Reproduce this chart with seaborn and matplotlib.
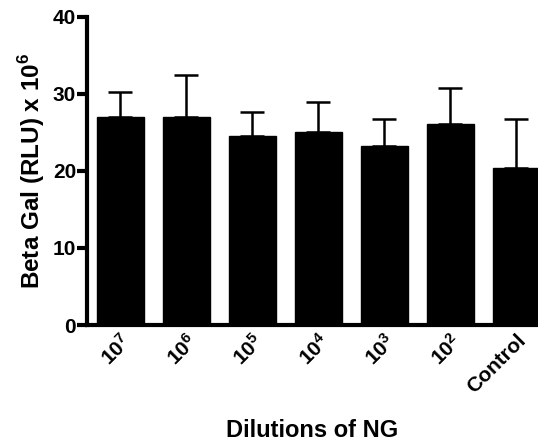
import numpy as np
import pandas as pd
import matplotlib
matplotlib.use("Agg")
import matplotlib.pyplot as plt
import seaborn as sns

# values
dilutions = ["10^7", "10^6", "10^5", "10^4", "10^3", "10^2", "Control"]
tick_labels = [r"$\mathbf{10^7}$", r"$\mathbf{10^6}$", r"$\mathbf{10^5}$", r"$\mathbf{10^4}$",
               r"$\mathbf{10^3}$", r"$\mathbf{10^2}$", "Control"]
beta_gal = [27.0, 27.0, 24.6, 25.0, 23.2, 26.1, 20.4]
sem = [3.3, 5.4, 3.0, 4.0, 3.5, 4.7, 6.3]

sns.set_style("ticks")
plt.rcParams["font.family"] = ["Liberation Sans", "DejaVu Sans"]
plt.rcParams["font.weight"] = "bold"
plt.rcParams["mathtext.fontset"] = "custom"
plt.rcParams["mathtext.bf"] = "Liberation Sans:bold"
plt.rcParams["mathtext.rm"] = "Liberation Sans"

df = pd.DataFrame({"dilution": dilutions, "value": beta_gal})

fig = plt.figure(figsize=(5.38, 4.44), dpi=100)
ax = fig.add_axes([0.162, 0.268, 0.838, 0.694])

sns.barplot(data=df, x="dilution", y="value", color="black", width=0.71,
            edgecolor="black", saturation=1, ax=ax, zorder=3)
x = np.arange(len(dilutions))
ax.errorbar(x, beta_gal, yerr=[np.zeros(len(sem)), sem], fmt="none",
            ecolor="black", elinewidth=1.8, capsize=8.6, capthick=1.8, zorder=2)

ax.set_ylim(0, 40)
ax.set_yticks([0, 10, 20, 30, 40])
ax.set_xlim(-0.5, 6.33)
ax.set_xticks(x)
ax.set_xticklabels(tick_labels, rotation=45, ha="right", rotation_mode="anchor",
                   fontsize=15, fontweight="bold", color="black")
for lab in ax.get_yticklabels():
    lab.set_fontweight("bold")
    lab.set_fontsize(15)
    lab.set_color("black")

ax.set_ylabel(r"Beta Gal (RLU) x 10$^{\mathbf{6}}$", fontsize=17.5, fontweight="bold",
              color="black", labelpad=4)
ax.set_xlabel("Dilutions of NG", fontsize=17, fontweight="bold", color="black", labelpad=16)

sns.despine(ax=ax)
for side in ["left", "bottom"]:
    ax.spines[side].set_linewidth(3)
    ax.spines[side].set_color("black")
ax.tick_params(axis="y", width=3, length=7, direction="out", pad=1, color="black")
ax.tick_params(axis="x", length=0, pad=4)

fig.savefig("out.png", dpi=100)
